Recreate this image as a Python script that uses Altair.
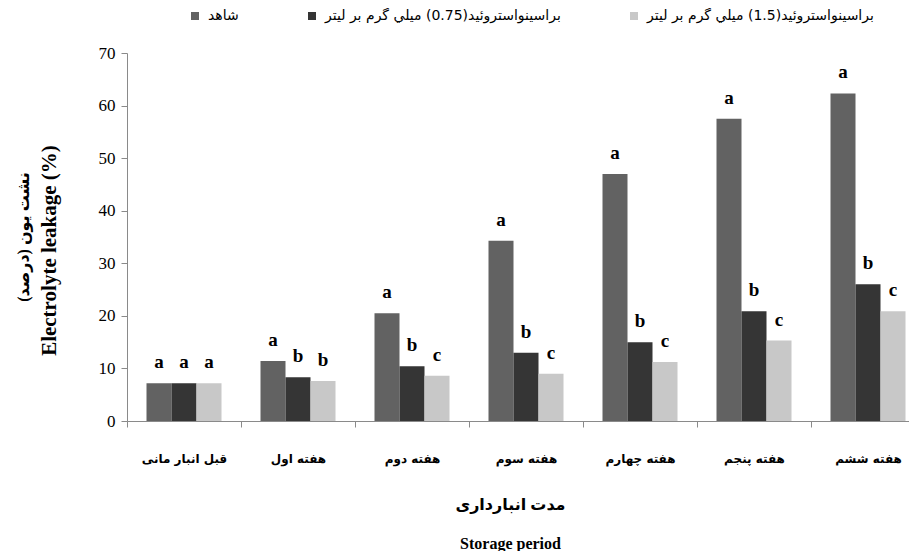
import altair as alt
import pandas as pd

periods = ["قبل انبار مانی", "هفته اول", "هفته دوم", "هفته سوم", "هفته چهارم", "هفته پنجم", "هفته ششم"]
series_names = ["شاهد",
                "براسینواستروئید(0.75) میلي گرم بر لیتر",
                "براسینواستروئید(1.5) میلي گرم بر لیتر"]
control = [7.2, 11.4, 20.5, 34.3, 47.0, 57.5, 62.3]
br_075 = [7.2, 8.3, 10.4, 13.0, 15.0, 20.9, 26.0]
br_15 = [7.2, 7.6, 8.6, 9.0, 11.2, 15.3, 20.9]
letters_control = ["a", "a", "a", "a", "a", "a", "a"]
letters_075 = ["a", "b", "b", "b", "b", "b", "b"]
letters_15 = ["a", "b", "c", "c", "c", "c", "c"]
colors = ["#626262", "#353535", "#c8c8c8"]
y_ticks = [0, 10, 20, 30, 40, 50, 60, 70]
y_title_fa = "نشت یون (درصد)\u200f"
y_title_en = "Electrolyte leakage  (%)"

rows = []
for i, p in enumerate(periods):
    for s, vals, lets in zip(series_names, [control, br_075, br_15],
                             [letters_control, letters_075, letters_15]):
        rows.append({"period": p, "series": s, "value": vals[i], "letter": lets[i]})
df = pd.DataFrame(rows)

serif = "Liberation Serif, DejaVu Sans"

x_enc = alt.X(
    "period:N", sort=periods,
    scale=alt.Scale(range=[0, 798], paddingInner=0, paddingOuter=0),
    axis=alt.Axis(
        title=["مدت انبارداری", "Storage period"],
        tickBand="extent", labelAngle=0,
        labelFont="DejaVu Sans", labelFontWeight="bold", labelFontSize=12, labelColor="black",
        labelPadding=26, tickSize=6, domainColor="#8a8a8a", tickColor="#8a8a8a",
        titleFont=serif, titleFontSize=16, titleFontWeight="bold", titleColor="black",
        titleX=383, titleY=88, titleBaseline="alphabetic", titleLineHeight=39,
    ),
)
xoff = alt.XOffset("series:N", sort=series_names,
                   scale=alt.Scale(paddingInner=0, paddingOuter=0.78))
y_enc = alt.Y(
    "value:Q", scale=alt.Scale(domain=[0, 70]),
    axis=alt.Axis(
        values=y_ticks, grid=False, tickSize=6, labelPadding=6,
        domainColor="#8a8a8a", tickColor="#8a8a8a",
        labelFont=serif, labelFontSize=17, labelColor="black",
        title=y_title_en,
        titleFont=serif, titleFontSize=21, titleFontWeight="bold", titleColor="black",
        titleX=-72, titleY=197, titleAngle=270, titleAlign="center",
        titleBaseline="alphabetic",
    ),
)

bars = alt.Chart(df).mark_bar().encode(
    x=x_enc, xOffset=xoff, y=y_enc,
    color=alt.Color(
        "series:N", sort=series_names,
        scale=alt.Scale(domain=series_names, range=colors),
        legend=alt.Legend(
            title=None, orient="none", legendX=61, legendY=-44,
            direction="horizontal", symbolType="square", symbolSize=64,
            symbolStrokeWidth=0, labelFont="DejaVu Sans", labelFontSize=14,
            labelColor="black", columnPadding=66, labelOffset=6, labelLimit=500,
        ),
    ),
)

letters = alt.Chart(df).mark_text(
    font="Liberation Serif", fontSize=19, fontWeight="bold", baseline="alphabetic",
    dy=-15, color="black",
).encode(
    x=alt.X("period:N", sort=periods),
    xOffset=alt.XOffset("series:N", sort=series_names),
    y="value:Q",
    text="letter:N",
)

chart = alt.layer(bars, letters).properties(
    width=782, height=368,
    padding={"left": 119, "top": 45, "right": 0, "bottom": 130},
    autosize=alt.AutoSizeParams(type="none"),
    title=alt.TitleParams(
        y_title_fa, orient="left", anchor="middle", font=serif, fontSize=16,
        fontWeight="bold", color="black", offset=6,
    ),
).configure_view(stroke=None)

chart.save("out.html", embed_options={"renderer": "svg", "actions": False})
